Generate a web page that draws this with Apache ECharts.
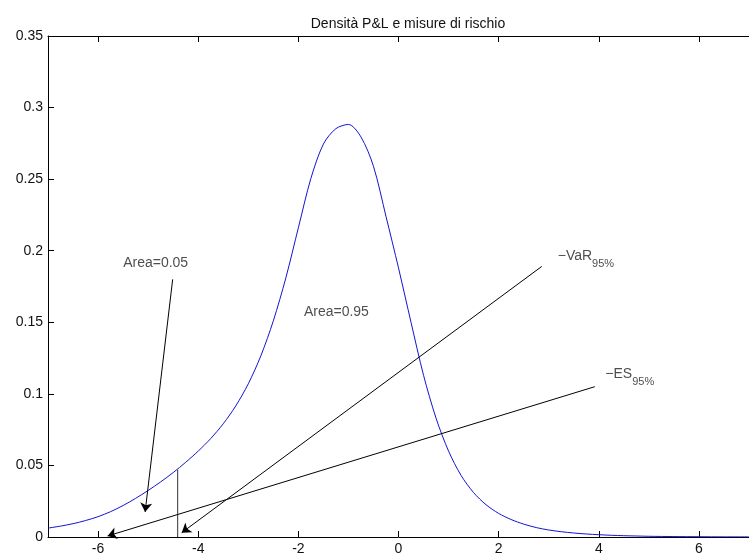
<!DOCTYPE html>
<html>
<head>
<meta charset="utf-8">
<title>Densità P&L e misure di rischio</title>
<script src="https://cdn.jsdelivr.net/npm/echarts@6/dist/echarts.min.js"></script>
<style>
  html, body { margin: 0; padding: 0; background: #fff; }
  #chart { width: 749px; height: 556px; }
</style>
</head>
<body>
<div id="chart"></div>
<script>
// densità del P&L (passo 0.25)
const pnlX = [-7, -6.75, -6.5, -6.25, -6, -5.75, -5.5, -5.25, -5, -4.75, -4.5, -4.25, -4, -3.75, -3.5, -3.25,
  -3, -2.75, -2.5, -2.25, -2, -1.75, -1.5, -1.25, -1, -0.75, -0.5, -0.25, 0, 0.25, 0.5, 0.75,
  1, 1.25, 1.5, 1.75, 2, 2.25, 2.5, 2.75, 3, 3.25, 3.5, 3.75, 4, 4.25, 4.5, 4.75, 5, 5.5, 6, 6.5, 7]
const pnlY = [0.0062, 0.0076, 0.0093, 0.0115, 0.0142, 0.0177, 0.022, 0.027, 0.0325, 0.0385, 0.045, 0.0522, 0.060, 0.0688, 0.0791, 0.0916,
  0.107, 0.1265, 0.151, 0.181, 0.216, 0.2505, 0.2745, 0.2853, 0.2882, 0.2795, 0.259, 0.224, 0.188, 0.150, 0.113, 0.083,
  0.060, 0.043, 0.031, 0.0225, 0.0165, 0.0122, 0.009, 0.0066, 0.0049, 0.0037, 0.0028, 0.0021, 0.0016, 0.0012, 0.0009, 0.0007, 0.0005, 0.0003, 0.0002, 0.0001, 0.0001]

// tick
const xTicks = [-6, -4, -2, 0, 2, 4, 6]

// VaR al 95% (linea verticale)
const varX = -4.41
const varDensity = 0.047

// frecce: [inizio, punta]
const arrowArea = [[-4.51, 0.180], [-5.06, 0.0175]]
const arrowVaR = [[2.86, 0.189], [-4.33, 0.003]]
const arrowES = [[3.92, 0.105], [-5.81, 0.0007]]

// testi
const noteLabels = ['Area=0.05', 'Area=0.95']
const notePos = [[-4.85, 0.1915], [-1.24, 0.157]]
const subLabels = [['−VaR', '95%'], ['−ES', '95%']]
const subPos = [[3.17, 0.194], [4.12, 0.112]]

const font = 'Liberation Sans, Arial, Helvetica, sans-serif'

const chart = echarts.init(document.getElementById('chart'))

const arrowLine = (a) => [{ coord: a[0] }, { coord: a[1] }]

const option = {
  animation: false,
  backgroundColor: '#fff',
  title: {
    text: 'Densità P&L e misure di rischio',
    left: 403,
    top: 12,
    textAlign: 'center',
    textStyle: { fontFamily: font, fontSize: 14, fontWeight: 'normal', color: '#111' }
  },
  grid: { left: 48, right: -9, top: 36, bottom: 19 },
  xAxis: [
    {
      type: 'value', min: -7, max: 7, position: 'bottom',
      axisLine: { show: true, onZero: false, lineStyle: { color: '#000', width: 1 } },
      axisTick: { show: true, inside: true, length: 6, customValues: xTicks, lineStyle: { color: '#000' } },
      axisLabel: { customValues: xTicks, fontFamily: font, fontSize: 14, color: '#111', margin: 5 },
      splitLine: { show: false }
    },
    {
      type: 'value', min: -7, max: 7, position: 'top',
      axisLine: { show: true, onZero: false, lineStyle: { color: '#000', width: 1 } },
      axisTick: { show: true, inside: true, length: 6, customValues: xTicks, lineStyle: { color: '#000' } },
      axisLabel: { show: false },
      splitLine: { show: false }
    }
  ],
  yAxis: [
    {
      type: 'value', min: 0, max: 0.35, interval: 0.05, position: 'left',
      axisLine: { show: true, onZero: false, lineStyle: { color: '#000', width: 1 } },
      axisTick: { show: true, inside: true, length: 6, lineStyle: { color: '#000' } },
      axisLabel: { fontFamily: font, fontSize: 14, color: '#111', margin: 5 },
      splitLine: { show: false }
    }
  ],
  series: [
    {
      name: 'densità',
      type: 'line',
      data: pnlX.map((x, i) => [x, pnlY[i]]),
      smooth: 0.3,
      showSymbol: false,
      lineStyle: { color: '#1414d2', width: 1 },
      z: 3
    },
    {
      name: 'VaR',
      type: 'line',
      data: [[varX, 0], [varX, varDensity]],
      showSymbol: false,
      lineStyle: { color: '#333', width: 1 },
      markLine: {
        silent: true,
        symbol: ['none', 'arrow'],
        symbolSize: 9,
        label: { show: false },
        lineStyle: { color: '#000', width: 1, type: 'solid' },
        data: [arrowLine(arrowArea), arrowLine(arrowVaR), arrowLine(arrowES)]
      }
    },
    {
      name: 'note',
      type: 'scatter',
      symbolSize: 1,
      itemStyle: { color: 'rgba(0,0,0,0)' },
      data: noteLabels.map((t, i) => ({
        value: notePos[i],
        label: { show: true, position: 'inside', formatter: t, fontFamily: font, fontSize: 14, color: '#222' }
      }))
    },
    {
      name: 'misure',
      type: 'scatter',
      symbolSize: 1,
      itemStyle: { color: 'rgba(0,0,0,0)' },
      data: subLabels.map((t, i) => ({
        value: subPos[i],
        label: {
          show: true, position: 'right', distance: 0,
          formatter: '{m|' + t[0] + '}{s|' + t[1] + '}',
          rich: {
            m: { fontFamily: font, fontSize: 14, color: '#222', padding: [0, 0, 6, 0] },
            s: { fontFamily: font, fontSize: 11, color: '#222', padding: [10, 0, 0, 0] }
          }
        }
      }))
    }
  ]
}

chart.setOption(option)
</script>
</body>
</html>
